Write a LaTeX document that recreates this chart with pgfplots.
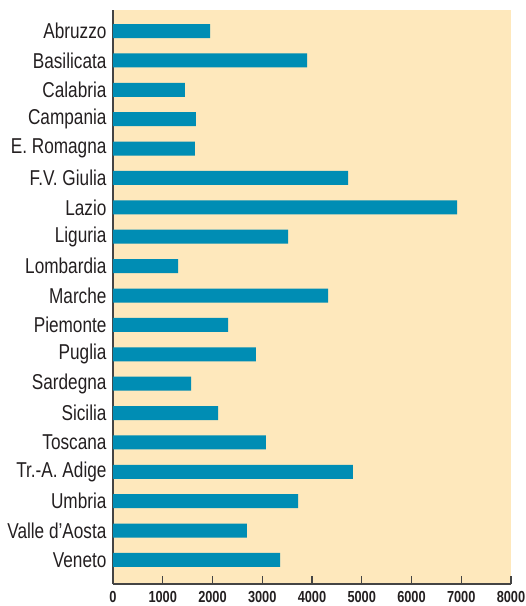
\documentclass[border=0pt]{standalone}
\usepackage{pgfplots}
\pgfplotsset{compat=1.18}
\usepackage{fontspec}
\setmainfont{Liberation Sans}[FakeStretch=0.8]
\definecolor{barc}{RGB}{0,141,180}
\definecolor{bgc}{RGB}{254,232,188}
\definecolor{axc}{RGB}{68,68,68}
\definecolor{txt}{RGB}{35,31,32}
\begin{document}
\begin{tikzpicture}
\path[use as bounding box] (-113pt,-22pt) rectangle (413pt,584pt);
\begin{axis}[
  at={(0,0)}, anchor=south west,
  scale only axis, width=398pt, height=574pt,
  xbar, bar width=14pt,
  xmin=0, xmax=8000,
  ymin=-0.715, ymax=18.817, y dir=reverse,
  ytick={0,...,18},
  yticklabels={Abruzzo,Basilicata,Calabria,Campania,E. Romagna,F.V. Giulia,Lazio,Liguria,Lombardia,Marche,Piemonte,Puglia,Sardegna,Sicilia,Toscana,Tr.-A. Adige,Umbria,Valle d’Aosta,Veneto},
  xtick={0,1000,...,8000},
  scaled x ticks=false,
  xticklabel style={font=\fontsize{16}{16}\selectfont\bfseries, text=txt, /pgf/number format/1000 sep={}},
  /pgf/number format/assume math mode=true,
  yticklabel style={font=\fontsize{21.5}{24}\selectfont, text=txt},
  axis x line*=bottom, axis y line*=left,
  axis line style={axc, line width=1.6pt, -},
  x axis line style={-}, y axis line style={-},
  xtick align=inside,
  major tick length=8pt,
  ytick style={draw=none},
  xtick style={axc, line width=1.4pt},
  axis background/.style={fill=bgc},
  xticklabel shift=4pt,
  yticklabel shift=-5pt,
  clip=false,
]
\addplot[fill=barc, draw=none] coordinates {
(1950,0) (3900,1) (1447,2) (1668,3) (1648,4) (4724,5) (6915,6) (3518,7) (1307,8) (4322,9)
(2312,10) (2874,11) (1568,12) (2111,13) (3075,14) (4824,15) (3720,16) (2693,17) (3357,18)
};
\end{axis}
\end{tikzpicture}
\end{document}
